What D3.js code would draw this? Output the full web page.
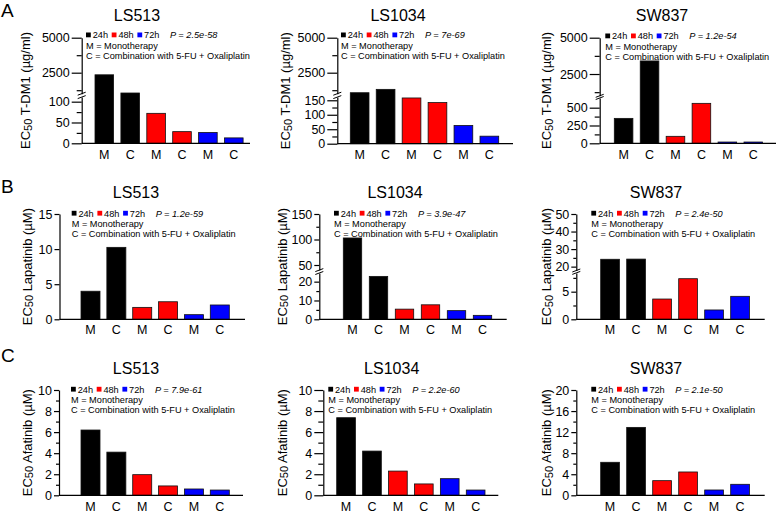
<!DOCTYPE html>
<html>
<head>
<meta charset="utf-8">
<script src="https://cdn.jsdelivr.net/npm/d3@7"></script>
<style>
  body { margin: 0; background: #fff; }
  text { font-family: "Liberation Sans", Arial, Helvetica, sans-serif; }
</style>
</head>
<body>
<div id="chart"></div>
<script>
// ---- data ----
const categories = ["M", "C", "M", "C", "M", "C"];
const timepoints = ["24h", "48h", "72h"];
const timeColors = ["#000000", "#ff0000", "#0000ff"];
const barTime = [0, 0, 1, 1, 2, 2];
const cellLines = ["LS513", "LS1034", "SW837"];
const rowLetters = ["A", "B", "C"];
const drugTitles = ["T-DM1 (µg/ml)", "Lapatinib (µM)", "Afatinib (µM)"];
const legendLine2 = "M = Monotherapy";
const legendLine3 = "C = Combination with 5-FU + Oxaliplatin";
const pValues = [
  ["2.5e-58", "7e-69", "1.2e-54"],
  ["1.2e-59", "3.9e-47", "2.4e-50"],
  ["7.9e-61", "2.2e-60", "2.1e-50"]
];

// EC50 per bar: M, C (24h), M, C (48h), M, C (72h)
const tdm1LS513 = [2350, 1050, 72, 28, 26, 13];
const tdm1LS1034 = [1070, 1310, 158, 142, 63, 26];
const tdm1SW837 = [350, 3400, 98, 561, 18, 18];
const lapLS513 = [4.0, 10.25, 1.7, 2.5, 0.66, 2.04];
const lapLS1034 = [103, 22.8, 5.4, 7.7, 4.6, 2.1];
const lapSW837 = [24.2, 24.3, 3.67, 7.35, 1.69, 4.16];
const afaLS513 = [6.2, 4.1, 1.96, 0.89, 0.6, 0.5];
const afaLS1034 = [7.37, 4.2, 2.3, 1.08, 1.58, 0.5];
const afaSW837 = [6.27, 12.9, 2.78, 4.43, 1.01, 2.09];

// y tick values (broken axes have a lower and an upper part)
const tdm1UpperMajor = [2500, 5000];
const tdm1UpperMinor = [1250, 3750];
const tdm1LS513LowerMajor = [0, 50, 100];
const tdm1LS513LowerMinor = [25, 75];
const tdm1LS1034LowerMajor = [0, 50, 100, 150];
const tdm1LS1034LowerMinor = [25, 75, 125];
const tdm1SW837LowerMajor = [0, 250, 500];
const tdm1SW837LowerMinor = [125, 375];
const lapLS513Major = [0, 5, 10, 15];
const lapLS1034LowerMajor = [0, 10, 20];
const lapLS1034LowerMinor = [5, 15];
const lapLS1034UpperMajor = [50, 100, 150];
const lapLS1034UpperMinor = [75, 125];
const lapSW837LowerMajor = [0, 5];
const lapSW837LowerMinor = [2.5, 7.5];
const lapSW837UpperMajor = [20, 30, 40, 50];
const lapSW837UpperMinor = [25, 35, 45];
const afaMajor = [0, 2, 4, 6, 8, 10];
const afaMinor = [1, 3, 5, 7, 9];
const afaSW837Major = [0, 4, 8, 12, 16, 20];
const afaSW837Minor = [2, 6, 10, 14, 18];

// ---- layout of the nine panels ----
const panels = [
  { row: 0, col: 0, values: tdm1LS513, axisX: 81.7, xEnd: 250, bar0: 95, step: 25.9, bw: 18.6, tick: 10, minor: 5,
    segs: [{ d: [0, 111], r: [143.3, 97.1], major: tdm1LS513LowerMajor, minor: tdm1LS513LowerMinor },
           { d: [1000, 5000], r: [93.7, 37.7], major: tdm1UpperMajor, minor: tdm1UpperMinor }],
    legX: 86, legY: 35, titleX: 137, yTitleX: 25 },
  { row: 0, col: 1, values: tdm1LS1034, axisX: 337.3, xEnd: 513, bar0: 350.3, step: 25.94, bw: 18.7, tick: 10, minor: 5,
    segs: [{ d: [0, 161], r: [143.7, 97.1], major: tdm1LS1034LowerMajor, minor: tdm1LS1034LowerMinor },
           { d: [1000, 5000], r: [93.7, 37.7], major: tdm1UpperMajor, minor: tdm1UpperMinor }],
    legX: 341, legY: 35, titleX: 398, yTitleX: 285 },
  { row: 0, col: 2, values: tdm1SW837, axisX: 599.7, xEnd: 776, bar0: 614.3, step: 25.94, bw: 18.6, tick: 10, minor: 5,
    segs: [{ d: [0, 636], r: [143.3, 98], major: tdm1SW837LowerMajor, minor: tdm1SW837LowerMinor },
           { d: [1000, 5000], r: [95.8, 37.7], major: tdm1UpperMajor, minor: tdm1UpperMinor }],
    legX: 605.3, legY: 36, titleX: 662, yTitleX: 546.3 },
  { row: 1, col: 0, values: lapLS513, axisX: 59.5, xEnd: 245, bar0: 81, step: 25.86, bw: 19, tick: 5, minor: 3,
    segs: [{ d: [0, 15], r: [319.3, 214], major: lapLS513Major, minor: [] }],
    legX: 71.7, legY: 213.3, titleX: 136, yTitleX: 26.7 },
  { row: 1, col: 1, values: lapLS1034, axisX: 319.3, xEnd: 506.7, bar0: 343.3, step: 26, bw: 18.4, tick: 5, minor: 3,
    segs: [{ d: [0, 24.6], r: [319.3, 273], major: lapLS1034LowerMajor, minor: lapLS1034LowerMinor },
           { d: [40, 150], r: [270.1, 214], major: lapLS1034UpperMajor, minor: lapLS1034UpperMinor }],
    legX: 334, legY: 213.3, titleX: 395, yTitleX: 281.7 },
  { row: 1, col: 2, values: lapSW837, axisX: 576.3, xEnd: 764.7, bar0: 600.7, step: 26, bw: 18.7, tick: 5, minor: 3,
    segs: [{ d: [0, 8.4], r: [319.3, 272.9], major: lapSW837LowerMajor, minor: lapSW837LowerMinor },
           { d: [17.8, 50], r: [270.5, 214], major: lapSW837UpperMajor, minor: lapSW837UpperMinor }],
    legX: 591.3, legY: 213.3, titleX: 656, yTitleX: 546.3 },
  { row: 2, col: 0, values: afaLS513, axisX: 59, xEnd: 243, bar0: 81, step: 25.86, bw: 19, tick: 5, minor: 3,
    segs: [{ d: [0, 10], r: [495.3, 390], major: afaMajor, minor: afaMinor }],
    legX: 71, legY: 389.3, titleX: 136, yTitleX: 26.7 },
  { row: 2, col: 1, values: afaLS1034, axisX: 323.3, xEnd: 498.3, bar0: 336.7, step: 25.92, bw: 18.7, tick: 9, minor: 5,
    segs: [{ d: [0, 10], r: [495.3, 390], major: afaMajor, minor: afaMinor }],
    legX: 328.3, legY: 389.3, titleX: 391.7, yTitleX: 281.7 },
  { row: 2, col: 2, values: afaSW837, axisX: 576.3, xEnd: 764.7, bar0: 600.7, step: 26, bw: 18.7, tick: 5, minor: 3,
    segs: [{ d: [0, 20], r: [495.3, 390], major: afaSW837Major, minor: afaSW837Minor }],
    legX: 591.3, legY: 389.3, titleX: 656, yTitleX: 546.3 }
];

const titleY = [21, 198, 374];
const catY = [159, 334.3, 510.5];
const letterY = [17, 193, 362];

const svg = d3.select("#chart")
  .append("svg")
  .attr("width", 778)
  .attr("height", 512);

rowLetters.forEach((l, i) => {
  svg.append("text")
    .attr("x", 1)
    .attr("y", letterY[i])
    .style("font-size", "19px")
    .text(l);
});

panels.forEach(p => {
  const g = svg.append("g");
  const y0 = p.segs[0].r[0];

  // one linear scale per axis segment
  p.segs.forEach(s => { s.scale = d3.scaleLinear().domain(s.d).range(s.r); });
  const yOf = v => {
    const s = (p.segs.length > 1 && v > p.segs[0].d[1]) ? p.segs[1] : p.segs[0];
    return s.scale(v);
  };

  const pad = 1 - p.bw / p.step;
  const x = d3.scaleBand()
    .domain(d3.range(categories.length))
    .range([p.bar0 - pad / 2 * p.step, p.bar0 - pad / 2 * p.step + 6 * p.step])
    .paddingInner(pad)
    .paddingOuter(pad / 2);

  // bars
  g.selectAll(".bar")
    .data(p.values)
    .enter()
    .append("rect")
    .attr("x", (d, i) => x(i))
    .attr("y", d => yOf(d))
    .attr("width", x.bandwidth())
    .attr("height", d => y0 - yOf(d))
    .attr("fill", (d, i) => timeColors[barTime[i]])
    .attr("stroke", "#111")
    .attr("stroke-width", 0.8);

  // y axis segments
  p.segs.forEach(s => {
    const ax = g.append("g")
      .attr("transform", `translate(${p.axisX},0)`)
      .call(d3.axisLeft(s.scale).tickValues(s.major).tickSize(p.tick).tickSizeOuter(0)
        .tickPadding(2).tickFormat(d => d));
    ax.selectAll("text").style("font-size", "12.5px").attr("fill", "#000");
    ax.selectAll("line, path").attr("stroke", "#000").attr("stroke-width", 1.2);

    if (s.minor.length) {
      const mn = g.append("g")
        .attr("transform", `translate(${p.axisX},0)`)
        .call(d3.axisLeft(s.scale).tickValues(s.minor).tickSize(p.minor).tickFormat(""));
      mn.select(".domain").remove();
      mn.selectAll("line").attr("stroke", "#000").attr("stroke-width", 1.2);
    }
  });

  // break marks
  if (p.segs.length > 1) {
    [p.segs[0].r[1], p.segs[1].r[0]].forEach(yy => {
      g.append("line")
        .attr("x1", p.axisX - 4).attr("y1", yy + 1.5)
        .attr("x2", p.axisX + 4).attr("y2", yy - 1.5)
        .attr("stroke", "#000").attr("stroke-width", 1);
    });
  }

  // x baseline and category labels
  g.append("line")
    .attr("x1", p.axisX).attr("x2", p.xEnd)
    .attr("y1", y0).attr("y2", y0)
    .attr("stroke", "#000").attr("stroke-width", 1.2);

  const xa = g.append("g")
    .attr("transform", `translate(0,${catY[p.row]})`)
    .call(d3.axisBottom(x).tickSize(0).tickPadding(0).tickFormat(i => categories[i]));
  xa.select(".domain").remove();
  xa.selectAll("text").attr("dy", null).attr("y", 0).style("font-size", "12.5px").attr("fill", "#000");

  // panel title
  g.append("text")
    .attr("x", p.titleX)
    .attr("y", titleY[p.row])
    .attr("text-anchor", "middle")
    .style("font-size", "16px")
    .text(cellLines[p.col]);

  // y axis title with subscript
  const yc = (p.segs[0].r[0] + p.segs[p.segs.length - 1].r[1]) / 2;
  const yt = g.append("text")
    .attr("transform", `translate(${p.yTitleX},${yc}) rotate(-90)`)
    .attr("text-anchor", "middle")
    .attr("dominant-baseline", "central")
    .style("font-size", "13px");
  yt.append("tspan").text("EC");
  yt.append("tspan").attr("dy", 2.5).style("font-size", "11px").text("50");
  yt.append("tspan").attr("dy", -2.5).text(" " + drugTitles[p.row]);

  // legend
  const lg = g.append("g").attr("transform", `translate(${p.legX},${p.legY})`);
  timepoints.forEach((t, i) => {
    lg.append("rect")
      .attr("x", i * 25.7)
      .attr("y", -2.5)
      .attr("width", 4.8)
      .attr("height", 4.8)
      .attr("fill", timeColors[i]);
    lg.append("text")
      .attr("x", i * 25.7 + 6.7)
      .attr("y", 3.2)
      .style("font-size", "9.2px")
      .text(t);
  });
  const pt = lg.append("text")
    .attr("x", 84)
    .attr("y", 3.2)
    .style("font-size", "9.2px")
    .style("font-style", "italic");
  pt.append("tspan").text("P");
  pt.append("tspan").text(" = " + pValues[p.row][p.col]);

  [legendLine2, legendLine3].forEach((s, i) => {
    lg.append("text")
      .attr("x", 0)
      .attr("y", 3.2 + (i + 1) * 10.4)
      .style("font-size", "9.2px")
      .text(s);
  });
});
</script>
</body>
</html>
